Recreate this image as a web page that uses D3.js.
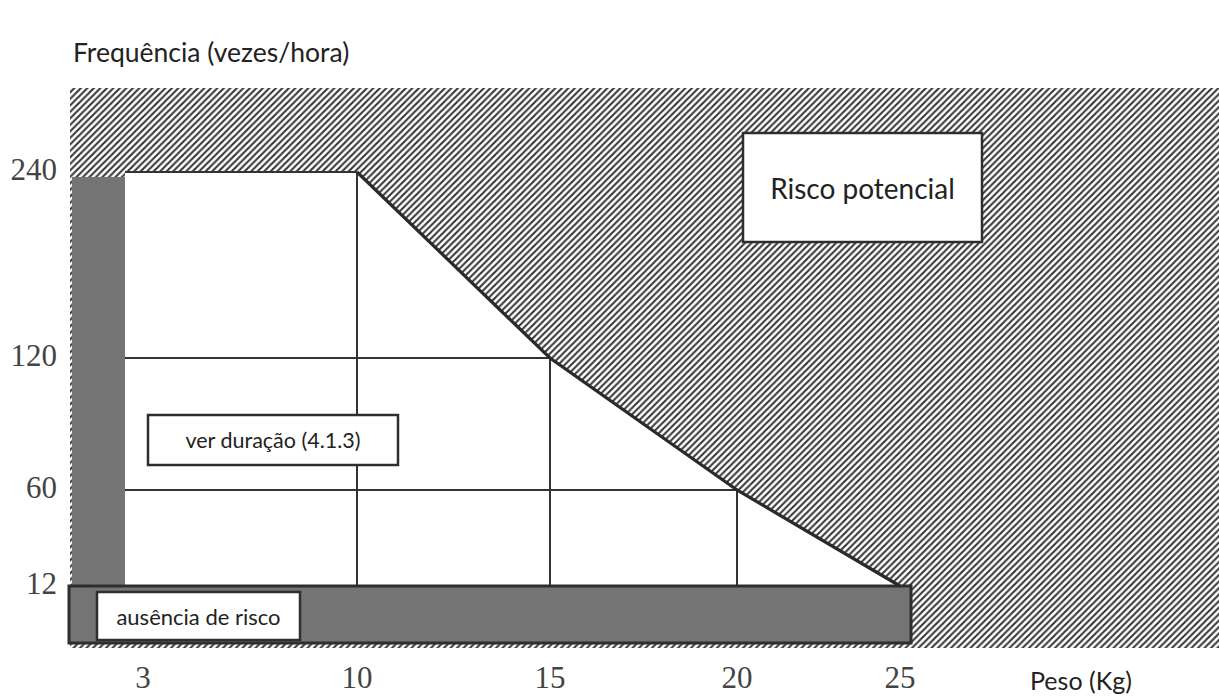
<!DOCTYPE html>
<html>
<head>
<meta charset="utf-8">
<script src="https://cdn.jsdelivr.net/npm/d3@7"></script>
<style>
  body { margin: 0; background: #fff; }
  svg { display: block; }
</style>
</head>
<body>
<div id="chart"></div>
<script>
// tick values
const weights = [3, 10, 15, 20, 25]
const freqs = [240, 120, 60, 12]

// limit line (weight, frequency) — above it is "risco potencial"
const limitWeights = [10, 15, 20, 25]
const limitFreqs = [240, 120, 60, 12]

const labels = {
  yTitle: "Frequência (vezes/hora)",
  xTitle: "Peso (Kg)",
  risk: "Risco potencial",
  duration: "ver duração (4.1.3)",
  none: "ausência de risco"
}

const WIDTH = 1219
const HEIGHT = 697
const PLOT = { LEFT: 70, TOP: 88, BOTTOM: 648 }

const SANS = "Lato, 'Open Sans', sans-serif"
const SERIF = "'Liberation Serif', 'DejaVu Serif', serif"

const svg = d3.select("#chart")
  .append("svg")
  .attr("width", WIDTH)
  .attr("height", HEIGHT)

// the scale is not linear in the original, so piecewise scales
const x = d3.scaleLinear()
  .domain(weights)
  .range([143, 357, 550, 737, 900])

const y = d3.scaleLinear()
  .domain(freqs)
  .range([172, 358, 490, 586])

const innerLeft = x(3) - 18

// hatch pattern
const defs = svg.append("defs")
const P = 6.5
const pat = defs.append("pattern")
  .attr("id", "hatch")
  .attr("patternUnits", "userSpaceOnUse")
  .attr("width", P)
  .attr("height", P)
pat.append("rect").attr("width", P).attr("height", P).attr("fill", "#fff")
pat.append("path")
  .attr("d", `M-1,1 l2,-2 M0,${P} l${P},-${P} M${P - 1},${P + 1} l2,-2`)
  .attr("stroke", "#363636")
  .attr("stroke-width", 2.1)

//hatched background (risk zone)
svg.append("rect")
  .attr("x", PLOT.LEFT)
  .attr("y", PLOT.TOP)
  .attr("width", WIDTH - PLOT.LEFT)
  .attr("height", PLOT.BOTTOM - PLOT.TOP)
  .attr("fill", "url(#hatch)")

// white acceptable zone under the limit line
const limitPts = limitWeights.map((w, i) => [x(w), y(limitFreqs[i])])
const zone = [[innerLeft, y(240)]].concat(limitPts).concat([[innerLeft, y(12)]])
svg.append("path")
  .attr("d", d3.line()(zone) + "Z")
  .attr("fill", "#fff")

// gray vertical bar on the left
svg.append("rect")
  .attr("x", PLOT.LEFT + 2)
  .attr("y", y(240) + 5)
  .attr("width", innerLeft - PLOT.LEFT - 2)
  .attr("height", y(12) - y(240) - 5)
  .attr("fill", "#747474")

// grid lines
const gridG = svg.append("g")
  .attr("stroke", "#333")
  .attr("stroke-width", 2)

limitFreqs.slice(0, 3).forEach((f, i) => {
  gridG.append("line")
    .attr("x1", innerLeft).attr("x2", x(limitWeights[i]))
    .attr("y1", y(f)).attr("y2", y(f))
})
limitWeights.slice(0, 3).forEach((w, i) => {
  gridG.append("line")
    .attr("x1", x(w)).attr("x2", x(w))
    .attr("y1", y(limitFreqs[i])).attr("y2", y(12))
})

// bottom gray bar "ausencia de risco"
svg.append("rect")
  .attr("x", PLOT.LEFT - 1)
  .attr("y", y(12))
  .attr("width", x(25) + 12 - PLOT.LEFT)
  .attr("height", 643 - y(12))
  .attr("fill", "#747474")
  .attr("stroke", "#2e2e2e")
  .attr("stroke-width", 3)

// limit line
svg.append("path")
  .attr("d", d3.line()(limitPts))
  .attr("fill", "none")
  .attr("stroke", "#2a2a2a")
  .attr("stroke-width", 3.2)

// boxed labels
function box(x0, y0, w, h, text, size, sw) {
  svg.append("rect")
    .attr("x", x0).attr("y", y0)
    .attr("width", w).attr("height", h)
    .attr("fill", "#fff")
    .attr("stroke", "#2e2e2e")
    .attr("stroke-width", sw)
  svg.append("text")
    .attr("x", x0 + w / 2)
    .attr("y", y0 + h / 2)
    .attr("text-anchor", "middle")
    .attr("dominant-baseline", "central")
    .style("font-family", SANS)
    .style("font-size", size + "px")
    .attr("fill", "#222")
    .text(text)
}

box(743, 133, 239, 109, labels.risk, 28, 2.5)
box(148, 415, 250, 50, labels.duration, 21.5, 2.5)
box(97, 592, 203, 48, labels.none, 22, 2.5)

// tick labels
svg.append("g")
  .selectAll("text")
  .data(freqs)
  .enter()
  .append("text")
  .attr("x", 57)
  .attr("y", d => y(d) - 3)
  .attr("text-anchor", "end")
  .attr("dominant-baseline", "central")
  .style("font-family", SERIF)
  .style("font-size", "31px")
  .attr("fill", "#444")
  .text(d => d)

svg.append("g")
  .selectAll("text")
  .data(weights)
  .enter()
  .append("text")
  .attr("x", d => x(d))
  .attr("y", 688)
  .attr("text-anchor", "middle")
  .style("font-family", SERIF)
  .style("font-size", "31px")
  .attr("fill", "#444")
  .text(d => d)

// axis titles
svg.append("text")
  .attr("x", 73)
  .attr("y", 62)
  .style("font-family", SANS)
  .style("font-size", "26.5px")
  .attr("fill", "#222")
  .text(labels.yTitle)

svg.append("text")
  .attr("x", 1030)
  .attr("y", 690)
  .style("font-family", SANS)
  .style("font-size", "25px")
  .attr("fill", "#222")
  .text(labels.xTitle)
</script>
</body>
</html>
